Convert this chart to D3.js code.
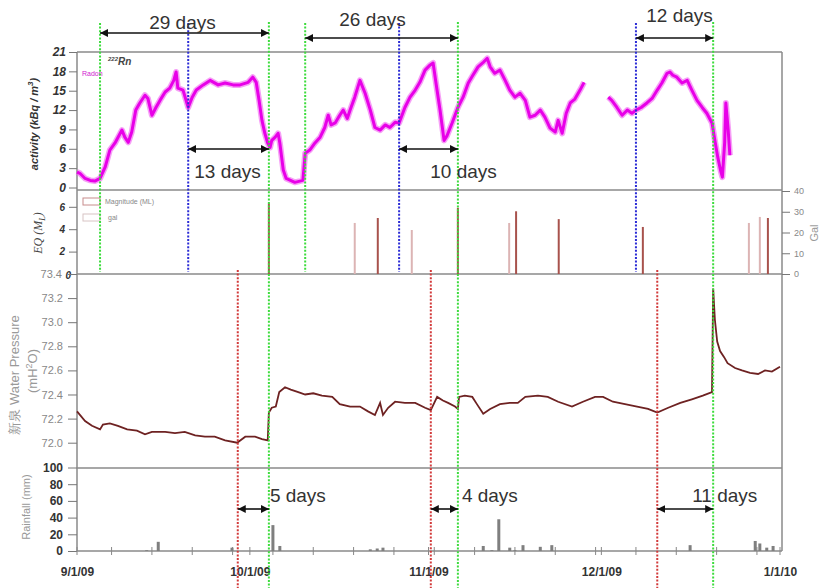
<!DOCTYPE html>
<html>
<head>
<meta charset="utf-8">
<script src="https://cdn.jsdelivr.net/npm/d3@7"></script>
<style>
  body { margin: 0; background: #fff; }
  svg { display: block; font-family: "Liberation Sans", Arial, sans-serif; }
</style>
</head>
<body>
<svg id="chart"></svg>
<script>
// All times are days after 9/1/09 (fractional where read between ticks).
const radon = [
  [0,2.4],[0.5,2.2],[1.4,1.4],[2.3,1.1],[3.1,1.0],[4.0,1.4],[4.9,3.2],[5.7,5.8],[6.6,6.9],[7.5,8.4],
  [7.8,8.9],[8.3,7.8],[8.9,7.0],[9.5,8.6],[10.2,12.0],[10.9,13.1],[11.8,14.3],[12.3,13.8],[13.0,11.2],
  [13.7,12.4],[14.4,13.5],[15.3,14.8],[16.1,15.4],[16.8,16.6],[17.2,17.9],[17.5,15.4],[18.4,15.1],
  [19.3,12.4],[20.0,14.0],[20.7,15.1],[21.9,15.9],[23.1,16.6],[24.5,15.9],[25.7,16.2],[27.1,15.9],
  [28.3,15.9],[29.7,16.3],[30.5,17.1],[31.1,16.3],[31.6,13.5],[32.1,10.4],[32.6,8.4],[33.1,6.9],
  [33.5,6.2],[33.8,7.3],[34.4,7.8],[34.9,8.4],[35.2,6.9],[35.8,2.7],[36.3,1.4],[37.8,0.8],[39.2,1.1],
  [39.6,5.3],[40.4,5.8],[41.3,6.9],[42.2,7.8],[43.0,9.3],[43.6,11.2],[44.1,9.7],[44.8,10.0],[45.6,11.2],
  [46.2,12.0],[46.9,10.7],[47.4,12.0],[48.2,14.0],[49.1,16.6],[50.0,14.6],[50.9,12.0],[51.7,9.3],
  [52.6,8.9],[53.5,9.7],[54.3,9.3],[55.2,10.1],[55.9,10.0],[56.9,12.4],[57.8,14.0],[58.7,15.1],
  [59.5,16.3],[60.4,18.2],[61.3,19.0],[61.8,19.3],[62.3,16.2],[63.0,12.0],[63.7,7.3],[64.2,8.0],
  [65.1,10.0],[66.1,12.4],[67.0,14.0],[67.9,16.2],[68.7,17.4],[69.6,18.7],[70.5,19.4],[71.2,20.0],
  [71.7,18.7],[72.5,17.7],[73.4,18.2],[74.3,16.6],[75.1,15.1],[76.0,14.0],[76.9,14.6],[77.8,13.5],
  [78.6,10.9],[79.5,11.2],[80.4,12.0],[81.2,10.9],[82.1,9.2],[83.0,8.6],[83.5,10.4],[84.2,8.4],
  [84.9,11.5],[85.6,13.1],[86.4,13.7],[87.3,15.1],[88.0,16.3],[90.0,null],
  [92.2,14.0],[92.8,13.5],[93.7,12.4],[94.6,11.2],[95.5,12.0],[96.3,11.5],[97.0,12.0],[97.9,12.4],
  [98.9,13.1],[99.8,13.8],[100.7,15.1],[101.5,16.2],[102.4,17.7],[102.9,17.9],[103.4,17.4],[104.1,17.1],
  [105.0,16.2],[105.9,16.6],[106.7,15.1],[107.6,13.5],[108.5,12.4],[109.3,11.5],[110.2,10.0],[110.7,7.3],
  [111.2,4.7],[111.7,2.6],[112.0,1.6],[112.4,7.0],[112.6,13.1],[113.0,9.0],[113.3,5.0]
];

const waterPressure = [
  [0,72.26],[1.4,72.18],[2.6,72.14],[4.0,72.11],[4.5,72.15],[5.7,72.16],[7.1,72.14],[8.7,72.11],
  [10.4,72.10],[11.8,72.07],[13.0,72.09],[15.3,72.09],[17.0,72.08],[18.7,72.09],[20.5,72.06],
  [22.2,72.05],[23.9,72.05],[25.7,72.02],[27.8,72.00],[29.2,72.05],[30.9,72.05],[32.1,72.03],
  [33.1,72.02],[33.3,72.25],[33.8,72.29],[34.5,72.30],[35.1,72.42],[36.1,72.46],[37.1,72.44],
  [38.4,72.42],[39.6,72.40],[41.0,72.41],[42.5,72.39],[44.3,72.38],[45.6,72.32],[47.4,72.30],
  [49.1,72.30],[50.5,72.26],[51.7,72.23],[52.6,72.33],[53.1,72.23],[54.0,72.29],[55.2,72.34],
  [56.9,72.33],[58.7,72.33],[60.4,72.29],[61.4,72.27],[62.5,72.38],[63.5,72.35],[64.4,72.33],
  [65.6,72.30],[66.1,72.28],[66.3,72.38],[67.3,72.39],[68.6,72.38],[69.4,72.32],[70.5,72.24],
  [71.7,72.28],[73.4,72.32],[75.1,72.33],[76.5,72.33],[77.8,72.38],[80.0,72.39],[81.7,72.38],
  [83.5,72.34],[85.9,72.30],[87.8,72.34],[89.9,72.38],[91.3,72.38],[93.0,72.34],[95.1,72.32],
  [97.2,72.30],[99.1,72.28],[100.7,72.25],[102.6,72.29],[104.7,72.33],[106.7,72.36],[108.6,72.39],
  [110.2,72.42],[110.4,73.28],[110.7,73.02],[111.1,72.84],[111.6,72.76],[112.3,72.71],[112.9,72.66],
  [114.2,72.62],[115.4,72.60],[116.8,72.58],[118.2,72.57],[119.4,72.60],[120.6,72.59],[122.0,72.63]
];

const rainfall = [
  [12.1,1],[14.1,11],[26.9,4],[34.0,31],[35.2,6],[50.9,2],[52.1,3],[53.1,4],[70.5,6],[72.0,1],
  [73.2,38],[75.1,4],[76.0,1],[77.4,7],[80.4,5],[82.4,7],[106.4,7],[117.7,12],[118.5,9],[119.7,4],[120.8,6]
];

const quakeMagnitude = [[33.3,6.3],[52.2,5.0],[66.1,5.9],[76.2,5.6],[83.6,4.9],[98.2,4.2],[119.9,5.0]];
const quakeGal = [[48.2,24.6],[58.1,21.2],[75.0,24.6],[116.6,24.6],[118.5,27.5]];

const markers = [
  {day: 4.0, color: "green", span: "upper"},
  {day: 19.3, color: "blue", span: "upper"},
  {day: 27.9, color: "red", span: "lower"},
  {day: 33.3, color: "green", span: "all"},
  {day: 39.6, color: "green", span: "upper"},
  {day: 55.9, color: "blue", span: "upper"},
  {day: 61.4, color: "red", span: "lower"},
  {day: 66.1, color: "green", span: "all"},
  {day: 97.0, color: "blue", span: "upper"},
  {day: 100.7, color: "red", span: "lower"},
  {day: 110.4, color: "green", span: "all"}
];

const intervals = [
  {from: 4.0, to: 33.3, label: "29 days"},
  {from: 19.3, to: 33.3, label: "13 days"},
  {from: 39.6, to: 66.1, label: "26 days"},
  {from: 55.9, to: 66.1, label: "10 days"},
  {from: 97.0, to: 110.4, label: "12 days"},
  {from: 27.9, to: 33.3, label: "5 days"},
  {from: 61.4, to: 66.1, label: "4 days"},
  {from: 100.7, to: 110.4, label: "11 days"}
];

const radonTicks = [0, 3, 6, 9, 12, 15, 18, 21];
const magTicks = [0, 2, 4, 6];
const galTicks = [0, 10, 20, 30, 40];
const waterTicks = [72.0, 72.2, 72.4, 72.6, 72.8, 73.0, 73.2, 73.4];
const rainTicks = [0, 20, 40, 60, 80, 100];

const width = 822;
const height = 588;
const left = 77;
const right = 782;

const t0 = Date.UTC(2009, 8, 1);
const day = d => new Date(t0 + d * 864e5);

const x = d3.scaleUtc()
  .domain([day(0), new Date(Date.UTC(2010, 0, 1))])
  .range([77, 780]);

const yRadon = d3.scaleLinear().domain([0, 21]).range([187.5, 52]);
const yMag = d3.scaleLinear().domain([0, 7.5]).range([274, 190]);
const yGal = d3.scaleLinear().domain([0, 40]).range([274, 191]);
const yWater = d3.scaleLinear().domain([71.79, 73.4]).range([468, 274]);
const yRain = d3.scaleLinear().domain([0, 100]).range([551, 467.5]);

const svg = d3.select("#chart").attr("width", width).attr("height", height);

const colors = {green: "#3ddc3d", blue: "#2b2bd6", red: "#d23a3a"};
const spans = {upper: [23, 272], all: [22, 588], lower: [270, 588]};

// panel frames
const frame = svg.append("g").attr("stroke", "#8a8a8a").attr("stroke-width", 1.5);
[52, 190, 274, 468].forEach(yy => {
  frame.append("line").attr("x1", left).attr("x2", right).attr("y1", yy).attr("y2", yy);
});
frame.append("line").attr("x1", left).attr("x2", left).attr("y1", 52).attr("y2", 551);
frame.append("line").attr("x1", right).attr("x2", right).attr("y1", 52).attr("y2", 551);
frame.append("line").attr("x1", left).attr("x2", right).attr("y1", 551).attr("y2", 551);

// left axes
const styleAxis = (g, font, weight, style, color) => {
  g.select(".domain").remove();
  g.selectAll(".tick line").attr("stroke", "#777").attr("stroke-width", 1);
  g.selectAll(".tick text")
    .attr("font-family", font)
    .attr("font-weight", weight)
    .attr("font-style", style)
    .attr("fill", color);
};

svg.append("g").attr("transform", `translate(${left},0)`)
  .call(d3.axisLeft(yRadon).tickValues(radonTicks).tickSize(8).tickPadding(3))
  .attr("font-size", 12)
  .call(g => styleAxis(g, "Liberation Sans", "bold", "italic", "#333"));

svg.append("g").attr("transform", `translate(${left},0)`)
  .call(d3.axisLeft(yMag).tickValues(magTicks).tickSize(8).tickPadding(4))
  .attr("font-size", 10)
  .call(g => styleAxis(g, "Liberation Sans", "bold", "italic", "#333"))
  // the zero label sits just after the "73.4" of the pressure axis
  .call(g => g.selectAll(".tick text").filter(d => d === 0).attr("x", -6).attr("dy", "0.45em"));

svg.append("g").attr("transform", `translate(${left},0)`)
  .call(d3.axisLeft(yWater).tickValues(waterTicks).tickFormat(d3.format(".1f")).tickSize(9).tickPadding(5))
  .attr("font-size", 11)
  .call(g => styleAxis(g, "Liberation Sans", "normal", "normal", "#888"))
  .call(g => g.selectAll(".tick text").filter(d => d === 73.4).attr("x", -15));

svg.append("g").attr("transform", `translate(${left},0)`)
  .call(d3.axisLeft(yRain).tickValues(rainTicks).tickSize(9).tickPadding(5))
  .attr("font-size", 12)
  .call(g => styleAxis(g, "Liberation Sans", "bold", "normal", "#333"));

svg.append("g").attr("transform", `translate(${right},0)`)
  .call(d3.axisRight(yGal).tickValues(galTicks).tickSize(8).tickPadding(4))
  .attr("font-size", 9)
  .call(g => styleAxis(g, "Liberation Sans", "normal", "normal", "#888"));

// x axis: weekly ticks crossing the line, month labels
const weekTicks = d3.utcMonday.range(day(0), day(122)).concat(d3.utcMonth.range(day(0), day(123)));
svg.append("g").selectAll("line").data(weekTicks).join("line")
  .attr("x1", d => x(d)).attr("x2", d => x(d))
  .attr("y1", 547).attr("y2", 555)
  .attr("stroke", "#888").attr("stroke-width", 1);

svg.append("g").attr("transform", "translate(0,551)")
  .call(d3.axisBottom(x).ticks(d3.utcMonth.every(1)).tickFormat(d3.utcFormat("%-m/%-d/%y")).tickSize(0).tickPadding(16))
  .attr("font-size", 12)
  .call(g => styleAxis(g, "Liberation Sans", "bold", "normal", "#333"));

// axis titles
const vText = (cx, cy) => svg.append("text")
  .attr("transform", `translate(${cx},${cy}) rotate(-90)`)
  .attr("text-anchor", "middle");

const act = vText(38, 124).attr("font-size", 11).attr("font-weight", "bold")
  .attr("font-style", "italic").attr("fill", "#333");
act.append("tspan").text("activity (kBq / m");
act.append("tspan").attr("font-size", 8).attr("dy", -5).text("3");
act.append("tspan").attr("dy", 5).text(")");

const eq = vText(42, 233).attr("font-size", 12).attr("font-style", "italic")
  .attr("font-family", "Liberation Serif").attr("fill", "#444");
eq.append("tspan").text("EQ (M");
eq.append("tspan").attr("font-size", 8).attr("dy", 3).text("L");
eq.append("tspan").attr("dy", -3).text(")");

vText(19, 375).attr("font-size", 13).attr("fill", "#999").text("新泉  Water Pressure");
const mh = vText(37, 371).attr("font-size", 13).attr("fill", "#999");
mh.append("tspan").text("(mH");
mh.append("tspan").attr("font-size", 9).attr("dy", -5).text("2");
mh.append("tspan").attr("dy", 5).text("O)");

vText(30, 507).attr("font-size", 11).attr("fill", "#999").text("Rainfall  (mm)");
vText(818, 233).attr("font-size", 11).attr("fill", "#999").text("Gal");

// radon series: a soft wide band under the core line
const radonLine = d3.line().defined(d => d[1] !== null).x(d => x(day(d[0]))).y(d => yRadon(d[1]));
svg.append("path")
  .datum(radon)
  .attr("fill", "none")
  .attr("stroke", "#f060f0")
  .attr("stroke-opacity", 0.6)
  .attr("stroke-width", 6)
  .attr("stroke-linejoin", "round")
  .attr("d", radonLine);
svg.append("path")
  .datum(radon)
  .attr("fill", "none")
  .attr("stroke", "#e800e8")
  .attr("stroke-width", 3)
  .attr("stroke-linejoin", "round")
  .attr("d", radonLine);

const rn = svg.append("text").attr("x", 108).attr("y", 65)
  .attr("font-size", 10).attr("font-weight", "bold").attr("font-style", "italic").attr("fill", "#444");
rn.append("tspan").attr("font-size", 6).attr("dy", -4).text("222");
rn.append("tspan").attr("dy", 4).text("Rn");
svg.append("text").attr("x", 82).attr("y", 76).attr("font-size", 7).attr("fill", "#d020d0").text("Radon");

// earthquake bars
svg.append("g").selectAll("line").data(quakeGal).join("line")
  .attr("x1", d => x(day(d[0]))).attr("x2", d => x(day(d[0])))
  .attr("y1", yGal(0)).attr("y2", d => yGal(d[1]))
  .attr("stroke", "#dcb4b4").attr("stroke-width", 2);

svg.append("g").selectAll("line").data(quakeMagnitude).join("line")
  .attr("x1", d => x(day(d[0]))).attr("x2", d => x(day(d[0])))
  .attr("y1", yMag(0)).attr("y2", d => yMag(d[1]))
  .attr("stroke", "#a8524c").attr("stroke-width", 2);

const legend = svg.append("g").attr("font-size", 7).attr("fill", "#888");
legend.append("rect").attr("x", 83).attr("y", 198).attr("width", 17).attr("height", 7)
  .attr("fill", "none").attr("stroke", "#c88c8c");
legend.append("rect").attr("x", 83).attr("y", 214).attr("width", 17).attr("height", 7)
  .attr("fill", "none").attr("stroke", "#d8c4c4");
legend.append("text").attr("x", 105).attr("y", 204).text("Magnitude (ML)");
legend.append("text").attr("x", 108).attr("y", 220).text("gal");

// water pressure
svg.append("path")
  .datum(waterPressure)
  .attr("fill", "none")
  .attr("stroke", "#6e2222")
  .attr("stroke-width", 1.8)
  .attr("d", d3.line().x(d => x(day(d[0]))).y(d => yWater(d[1])));

// rainfall bars
svg.append("g").selectAll("rect").data(rainfall).join("rect")
  .attr("x", d => x(day(d[0])) - 1.5)
  .attr("y", d => yRain(d[1]))
  .attr("width", 3)
  .attr("height", d => yRain(0) - yRain(d[1]))
  .attr("fill", "#7f7f7f");

// dotted marker lines
svg.append("g").selectAll("line").data(markers).join("line")
  .attr("x1", d => x(day(d.day))).attr("x2", d => x(day(d.day)))
  .attr("y1", d => spans[d.span][0]).attr("y2", d => spans[d.span][1])
  .attr("stroke", d => colors[d.color])
  .attr("stroke-width", 2)
  .attr("stroke-dasharray", "2,1.6");

// interval arrows
svg.append("defs").append("marker")
  .attr("id", "head")
  .attr("viewBox", "0 0 10 10")
  .attr("refX", 10).attr("refY", 5)
  .attr("markerWidth", 8).attr("markerHeight", 8)
  .attr("markerUnits", "userSpaceOnUse")
  .attr("orient", "auto-start-reverse")
  .append("path").attr("d", "M0,0L10,5L0,10z").attr("fill", "#111");

const arrowLayout = {
  "29 days": {y: 33, ty: 29, dx: -2, anchor: "middle"},
  "26 days": {y: 38, ty: 26, dx: -9, anchor: "middle"},
  "12 days": {y: 38, ty: 22, dx: 5, anchor: "middle"},
  "13 days": {y: 149, ty: 178, dx: -1, anchor: "middle"},
  "10 days": {y: 149, ty: 178, dx: 35, anchor: "middle"},
  "5 days": {y: 509, ty: 502, end: 1, anchor: "start"},
  "4 days": {y: 509, ty: 502, end: 4, anchor: "start"},
  "11 days": {y: 509, ty: 502, end: -21, anchor: "start"}
};

const arrows = svg.append("g");
intervals.forEach(d => {
  const L = arrowLayout[d.label];
  const x1 = x(day(d.from)), x2 = x(day(d.to));
  arrows.append("line")
    .attr("x1", x1).attr("x2", x2).attr("y1", L.y).attr("y2", L.y)
    .attr("stroke", "#111").attr("stroke-width", 1.6)
    .attr("marker-start", "url(#head)").attr("marker-end", "url(#head)");
  const tx = L.anchor === "middle" ? (x1 + x2) / 2 + L.dx : x2 + L.end;
  arrows.append("text")
    .attr("x", tx).attr("y", L.ty)
    .attr("text-anchor", L.anchor)
    .attr("font-size", 19)
    .attr("fill", "#333")
    .text(d.label);
});
</script>
</body>
</html>
